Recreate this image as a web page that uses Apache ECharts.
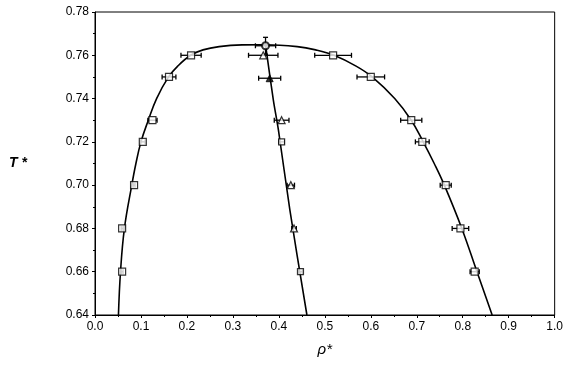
<!DOCTYPE html>
<html><head><meta charset="utf-8">
<script src="https://cdn.jsdelivr.net/npm/echarts@6/dist/echarts.min.js"></script>
<style>html,body{margin:0;padding:0;background:#fff}#c{width:566px;height:365px}</style>
</head><body><div id="c"></div>
<script>
// Axis ticks
const xTicks = [0.0,0.1,0.2,0.3,0.4,0.5,0.6,0.7,0.8,0.9,1.0];
const yTicks = [0.64,0.66,0.68,0.70,0.72,0.74,0.76,0.78];

// Binodal fit curve (rho*, T*), read along the drawn line from lower left to lower right
const curveRho = [0.051,0.0555,0.064,0.080,0.089,0.100,0.116,0.134,0.160,0.180,0.208,0.235,0.270,0.320,0.370,0.440,0.480,0.520,0.568,0.603,0.652,0.688,0.714,0.738,0.760,0.798,0.831,0.864];
const curveT   = [0.640,0.660,0.680,0.700,0.710,0.720,0.730,0.740,0.750,0.755,0.760,0.7625,0.764,0.7648,0.7649,0.764,0.7625,0.760,0.755,0.750,0.740,0.730,0.720,0.710,0.700,0.680,0.660,0.640];

// Rectilinear diameter line
const diamRho = [0.371,0.388,0.399,0.424,0.461];
const diamT   = [0.7648,0.7393,0.7255,0.6885,0.640];

// Gas branch (open squares)
const gasT   = [0.76,0.75,0.73,0.72,0.70,0.68,0.66];
const gasRho = [0.209,0.161,0.125,0.104,0.085,0.059,0.059];
const gasErr = [0.022,0.015,0.010,0.005,0.002,0.002,0.002];

// Liquid branch (open squares)
const liqT   = [0.76,0.75,0.73,0.72,0.70,0.68,0.66];
const liqRho = [0.518,0.600,0.688,0.712,0.763,0.795,0.826];
const liqErr = [0.040,0.030,0.023,0.015,0.012,0.018,0.010];

// Diameter points: open triangles
const triT   = [0.760,0.730,0.700,0.680];
const triRho = [0.366,0.406,0.426,0.433];
const triErr = [0.032,0.016,0.008,0.005];
// filled triangle
const ftriT = [0.7494], ftriRho = [0.380], ftriErr = [0.024];
// small squares on diameter
const dsqT = [0.720,0.660], dsqRho = [0.406,0.447], dsqErr = [0.006,0.004];
// critical point
const critT = [0.7644], critRho = [0.371], critErrX = [0.022], critErrY = [0.0039];

const zip = (a,b) => a.map((v,i)=>[v,b[i]]);
const errData = [];
function addErr(rho,T,ex,ey){ rho.forEach((r,i)=>errData.push([r,T[i],ex[i],ey?ey[i]:0])); }
addErr(gasRho,gasT,gasErr); addErr(liqRho,liqT,liqErr); addErr(triRho,triT,triErr);
addErr(ftriRho,ftriT,ftriErr); addErr(dsqRho,dsqT,dsqErr); addErr(critRho,critT,critErrX,critErrY);

const chart = echarts.init(document.getElementById('c'));
const F = 'Liberation Sans, Arial, sans-serif';
chart.setOption({
  animation:false,
  grid:{left:95,right:11,top:12,bottom:50,show:true,borderColor:'#000',borderWidth:1},
  xAxis:{type:'value',min:0,max:1,interval:0.1,
    name:'ρ*',nameLocation:'middle',nameGap:27,
    nameTextStyle:{fontFamily:F,fontSize:15,fontStyle:'italic',color:'#000'},
    axisLine:{lineStyle:{color:'#000',width:1}},
    axisTick:{length:3,lineStyle:{color:'#000'}},
    minorTick:{show:true,splitNumber:2,length:2,lineStyle:{color:'#000'}},
    splitLine:{show:false},
    axisLabel:{fontFamily:F,fontSize:12,color:'#000',margin:6,formatter:v=>v.toFixed(1)}},
  yAxis:{type:'value',min:0.64,max:0.78,interval:0.02,
    name:'T *',nameLocation:'middle',nameRotate:0,nameGap:68,
    nameTextStyle:{fontFamily:F,fontSize:14,fontStyle:'italic',fontWeight:'bold',color:'#000'},
    axisLine:{lineStyle:{color:'#000',width:1}},
    axisTick:{length:3,lineStyle:{color:'#000'}},
    minorTick:{show:true,splitNumber:2,length:2,lineStyle:{color:'#000'}},
    splitLine:{show:false},
    axisLabel:{fontFamily:F,fontSize:12,color:'#000',margin:6,formatter:v=>v.toFixed(2)}},
  series:[
    {type:'line',data:zip(curveRho,curveT),smooth:0.4,showSymbol:false,lineStyle:{color:'#000',width:1.6}},
    {type:'line',data:zip(diamRho,diamT),smooth:0.3,showSymbol:false,lineStyle:{color:'#000',width:1.6}},
    {type:'custom',data:errData,z:5,renderItem:(params,api)=>{
      const x=api.value(0),y=api.value(1),ex=api.value(2),ey=api.value(3);
      const p1=api.coord([x-ex,y]),p2=api.coord([x+ex,y]);
      const c=2.5, s={stroke:'#000',lineWidth:1.3};
      const ch=[
        {type:'line',shape:{x1:p1[0],y1:p1[1],x2:p2[0],y2:p2[1]},style:s},
        {type:'line',shape:{x1:p1[0],y1:p1[1]-c,x2:p1[0],y2:p1[1]+c},style:s},
        {type:'line',shape:{x1:p2[0],y1:p2[1]-c,x2:p2[0],y2:p2[1]+c},style:s}];
      if(ey>0){
        const q1=api.coord([x,y-ey]),q2=api.coord([x,y+ey]);
        ch.push({type:'line',shape:{x1:q1[0],y1:q1[1],x2:q2[0],y2:q2[1]},style:s});
        ch.push({type:'line',shape:{x1:q1[0]-c,y1:q1[1],x2:q1[0]+c,y2:q1[1]},style:s});
        ch.push({type:'line',shape:{x1:q2[0]-c,y1:q2[1],x2:q2[0]+c,y2:q2[1]},style:s});
      }
      return {type:'group',children:ch};
    }},
    {type:'scatter',data:zip(gasRho,gasT),symbol:'rect',symbolSize:7,z:10,itemStyle:{color:'#fff',borderColor:'#000',borderWidth:1.2}},
    {type:'scatter',data:zip(liqRho,liqT),symbol:'rect',symbolSize:7,z:10,itemStyle:{color:'#fff',borderColor:'#000',borderWidth:1.2}},
    {type:'scatter',data:zip(triRho,triT),symbol:'triangle',symbolSize:7,z:10,itemStyle:{color:'#fff',borderColor:'#000',borderWidth:1.2}},
    {type:'scatter',data:zip(ftriRho,ftriT),symbol:'triangle',symbolSize:7,z:10,itemStyle:{color:'#000',borderColor:'#000',borderWidth:1}},
    {type:'scatter',data:zip(dsqRho,dsqT),symbol:'rect',symbolSize:6,z:10,itemStyle:{color:'#fff',borderColor:'#000',borderWidth:1.2}},
    {type:'scatter',data:zip(critRho,critT),symbol:'circle',symbolSize:7,z:10,itemStyle:{color:'#fff',borderColor:'#000',borderWidth:2}}
  ]
});
</script></body></html>
